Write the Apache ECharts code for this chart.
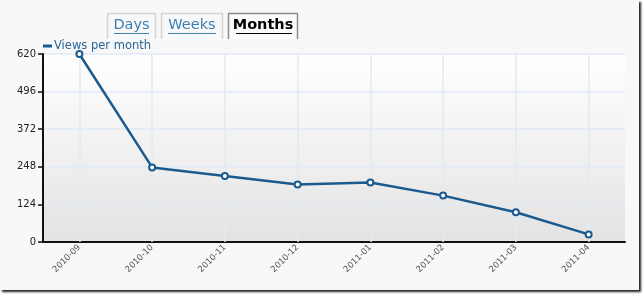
<!DOCTYPE html>
<html><head><meta charset="utf-8">
<script src="https://cdn.jsdelivr.net/npm/echarts@6/dist/echarts.min.js"></script>
<style>
html,body{margin:0;padding:0;background:#ffffff;}
#wrap{position:relative;width:644px;height:296px;overflow:hidden;}
#frame{position:absolute;left:0;top:0;width:639px;height:290px;background:#f8f8f8;box-shadow:2px 2px 2px #222;}
#chart{position:absolute;left:0;top:0;width:644px;height:296px;}
</style></head>
<body>
<div id="wrap"><div id="frame"></div><div id="chart"></div></div>
<script>
var categories = ['2010-09','2010-10','2010-11','2010-12','2011-01','2011-02','2011-03','2011-04'];
var views = [620, 246, 218, 190, 196, 153, 98, 25];
var yTicks = [0, 124, 248, 372, 496, 620];
var tabs = ['Days', 'Weeks', 'Months'];
var seriesName = 'Views per month';

var chart = echarts.init(document.getElementById('chart'), null, {renderer:'canvas'});
var font = 'DejaVu Sans, Verdana, sans-serif';
var tabBoxes = [[107,13,49],[161,13,62],[228,13,70]];
var graphics = [];
tabs.forEach(function(t, i){
  var b = tabBoxes[i], active = i === 2;
  graphics.push({type:'polyline', silent:true, shape:{points:[[b[0]+0.5,b[1]+26],[b[0]+0.5,b[1]+0.5],[b[0]+b[2]-0.5,b[1]+0.5],[b[0]+b[2]-0.5,b[1]+26]]},
    style:{stroke: active ? '#8c8c8c' : '#d4d4d4', fill: active ? '#fbfbfb' : '#f8f8f8', lineWidth:1.5}});
  graphics.push({type:'text', silent:true, x:b[0]+b[2]/2, y:b[1]+12,
    style:{text:t, font:(active?'bold ':'')+'14.5px '+font, fill: active ? '#000' : '#3c7fb2', align:'center', verticalAlign:'middle'}});
});
[[114,149,'#3c7fb2'],[168,216,'#3c7fb2'],[236,292,'#000']].forEach(function(u){
  graphics.push({type:'line', silent:true, shape:{x1:u[0],y1:33.5,x2:u[1],y2:33.5}, style:{stroke:u[2], lineWidth:1}});
});

chart.setOption({
  animation:false,
  legend:{show:true, left:43, top:40, padding:0, icon:'rect', itemWidth:9, itemHeight:3, itemGap:4,
    itemStyle:{color:'#1b5a8e', borderWidth:0},
    textStyle:{color:'#2a659a', fontSize:11.5, fontFamily:font, padding:[0,0,0,-3]}, data:[seriesName]},
  graphic:graphics,
  grid:{left:43, right:19, top:54, bottom:54, show:true, borderWidth:0,
    backgroundColor:new echarts.graphic.LinearGradient(0,0,0,1,[{offset:0,color:'#ffffff'},{offset:1,color:'#e3e3e3'}])},
  xAxis:{type:'category', data:categories, boundaryGap:true,
    axisLine:{lineStyle:{color:'#111', width:2}},
    axisTick:{alignWithLabel:true, length:5, lineStyle:{color:'#111', width:1.5}},
    axisLabel:{rotate:45, fontSize:8.5, color:'#555', fontFamily:font, margin:4},
    splitLine:{show:false}},
  yAxis:{type:'value', min:0, max:620, interval:124,
    axisLine:{show:true, lineStyle:{color:'#111', width:2}},
    axisTick:{show:true, length:5, lineStyle:{color:'#111', width:1.5}},
    axisLabel:{fontSize:10, color:'#222', fontFamily:font, margin:7, customValues:yTicks},
    splitLine:{lineStyle:{color:'#e2eaf6', width:1.5}}},
  series:[
    {type:'line', name:'grid', data:[], z:1, silent:true, legendHoverLink:false,
      markLine:{silent:true, z:1, symbol:['none','none'], label:{show:false},
        lineStyle:{color:'#e2eaf6', width:1.5, type:'solid'},
        data:categories.map(function(c){return {xAxis:c};})}},
    {type:'line', name:seriesName, data:views, z:3,
      lineStyle:{color:'#1b5a8e', width:2.5}, itemStyle:{color:'#ffffff', borderColor:'#1b5a8e', borderWidth:2},
      symbol:'circle', symbolSize:6, showAllSymbol:true,
      emphasis:{disabled:true}}
  ]
});
</script>
</body></html>
